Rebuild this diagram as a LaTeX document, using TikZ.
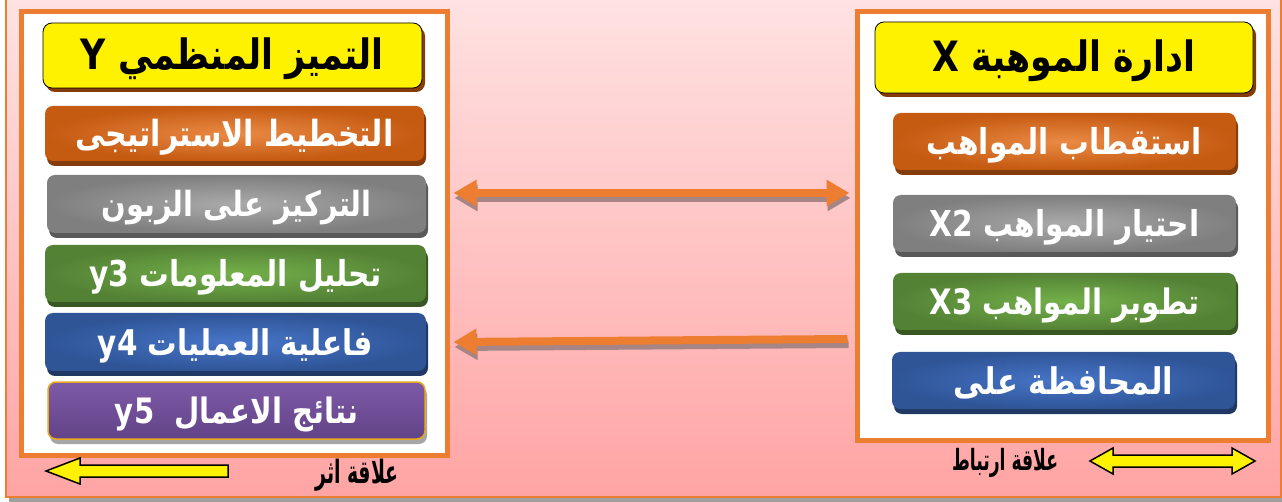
\documentclass[tikz,border=0pt]{standalone}
\usepackage{fontspec}
\usepackage{graphicx}
\usetikzlibrary{shadows,arrows.meta}
\newfontfamily\arfont[Script=Arabic]{DejaVu Sans}
\TeXXeTstate=1
% #1 width, #2 vertical stretch, #3 depth trimmed (moves text down by half), #4 text
\newcommand{\ART}[4]{\raisebox{0pt}[\height][\dimexpr\depth-#3\relax]{\resizebox{#1}{!}{\scalebox{1}[#2]{\arfont\bfseries #4}}}}
\definecolor{bgtop}{HTML}{FFE3E3}
\definecolor{bgbot}{HTML}{FFA4A4}
\definecolor{frameor}{HTML}{ED7D31}
\definecolor{hdrshadow}{HTML}{843C0C}
\definecolor{orout}{HTML}{C55A11}
\definecolor{orin}{HTML}{EA8A45}
\definecolor{orsh}{HTML}{843C0C}
\definecolor{grout}{HTML}{7F7F7F}
\definecolor{grin}{HTML}{AAAAAA}
\definecolor{grsh}{HTML}{595959}
\definecolor{gnout}{HTML}{548235}
\definecolor{gnin}{HTML}{74B04A}
\definecolor{gnsh}{HTML}{385723}
\definecolor{blout}{HTML}{2F5597}
\definecolor{blin}{HTML}{4775C8}
\definecolor{blsh}{HTML}{203864}
\definecolor{putop}{HTML}{7E5AA8}
\definecolor{pubot}{HTML}{614386}
\definecolor{pubord}{HTML}{E8A820}
\definecolor{push}{HTML}{A6A6A6}
\definecolor{arrsh}{HTML}{A78585}
\definecolor{outsh}{HTML}{A0A0A0}
\tikzset{
  frame/.style={draw=frameor, line width=5pt, fill=white, inner sep=0pt, outer sep=0pt},
  hdrbox/.style={draw=black, line width=0.8pt, fill=yellow, rounded corners=9pt,
    inner sep=0pt, outer sep=0pt,
    general shadow={fill=hdrshadow, shadow xshift=3pt, shadow yshift=-4pt}},
  itembox/.style={rounded corners=8pt, inner sep=0pt, outer sep=0pt, text=white},
  orbox/.style={itembox, inner color=orin, outer color=orout,
    general shadow={fill=orsh, shadow xshift=2pt, shadow yshift=-5pt}},
  grbox/.style={itembox, inner color=grin, outer color=grout,
    general shadow={fill=grsh, shadow xshift=2pt, shadow yshift=-5pt}},
  gnbox/.style={itembox, inner color=gnin, outer color=gnout,
    general shadow={fill=gnsh, shadow xshift=2pt, shadow yshift=-5pt}},
  blbox/.style={itembox, inner color=blin, outer color=blout,
    general shadow={fill=blsh, shadow xshift=2pt, shadow yshift=-5pt}},
  pubox/.style={itembox, top color=putop, bottom color=pubot, draw=pubord, line width=1.5pt,
    general shadow={fill=push, shadow xshift=2pt, shadow yshift=-5pt}},
  bigarrow/.style={draw=frameor, line width=8pt},
  bigshadow/.style={draw=arrsh, line width=8pt, transform canvas={xshift=1pt, yshift=-5pt}},
  legarrow/.style={draw=black, line width=1.5pt, fill=yellow, line join=miter},
  leglabel/.style={inner sep=0pt, text=black}
}
\begin{document}
\begin{tikzpicture}[x=1pt, y=-1pt]
\useasboundingbox (0,0) rectangle (1282,502);
\fill[white] (0,0) rectangle (1282,502);
% outer background
\fill[outsh] (9,497) rectangle (1282,502);
\shade[top color=bgtop, bottom color=bgbot] (6,-10) rectangle (1281,497);
\draw[frameor, line width=1.5pt] (6,-10) -- (6,497) -- (1281,497) -- (1281,-10);
% frames
\node[frame, minimum width=426pt, minimum height=444pt] (lp) at (234.5,233.5) {};
\node[frame, minimum width=411pt, minimum height=429pt] (rp) at (1063,226) {};
% left column
\node[hdrbox, minimum width=379pt, minimum height=65pt] (hY) at (232.5,55.5)
  {\ART{303pt}{1.2}{6pt}{\beginR التميز المنظمي Y\endR}};
\node[orbox, minimum width=379pt, minimum height=55pt] (l1) at (234.5,133.5)
  {\ART{318pt}{1.2}{8pt}{\beginR التخطيط الاستراتيجى\endR}};
\node[grbox, minimum width=379pt, minimum height=58pt] (l2) at (236.5,204)
  {\ART{270pt}{1.2}{8pt}{\beginR التركيز على الزبون\endR}};
\node[gnbox, minimum width=381pt, minimum height=57pt] (l3) at (235.5,273.5)
  {\ART{292pt}{1.2}{8pt}{\beginR تحليل المعلومات \beginL y3\endL\endR}};
\node[blbox, minimum width=381pt, minimum height=58pt] (l4) at (235.5,342)
  {\ART{275pt}{1.2}{8pt}{\beginR فاعلية العمليات \beginL y4\endL\endR}};
\node[pubox, minimum width=377pt, minimum height=57pt] (l5) at (236.5,410.5)
  {\ART{243pt}{1.2}{8pt}{\beginR نتائج الاعمال \ \beginL y5\endL\endR}};
% right column
\node[hdrbox, minimum width=378pt, minimum height=71pt] (hX) at (1064,57.5)
  {\ART{263pt}{1.2}{6pt}{\beginR ادارة الموهبة X\endR}};
\node[orbox, minimum width=343pt, minimum height=57pt] (r1) at (1064.5,141.5)
  {\ART{275pt}{1.2}{8pt}{\beginR استقطاب المواهب\endR}};
\node[grbox, minimum width=343pt, minimum height=57pt] (r2) at (1064.5,223.5)
  {\ART{270pt}{1.2}{8pt}{\beginR احتيار المواهب \beginL X2\endL\endR}};
\node[gnbox, minimum width=343pt, minimum height=57pt] (r3) at (1064.5,301.5)
  {\ART{270pt}{1.2}{8pt}{\beginR تطوبر المواهب \beginL X3\endL\endR}};
\node[blbox, minimum width=343pt, minimum height=57pt] (r4) at (1063.5,380.5)
  {\ART{219pt}{1.2}{8pt}{\beginR المحافظة على\endR}};
% connectors between the frames
\coordinate (dL) at ([xshift=6pt]lp.east |- 0,193);
\coordinate (dR) at ([xshift=-8pt]rp.west |- 0,193);
\coordinate (sR) at ([xshift=-10pt]rp.west |- 0,339);
\coordinate (sL) at ([xshift=6pt]lp.east |- 0,342);
\draw[bigshadow, {Triangle[length=23pt,width=25pt]}-{Triangle[length=23pt,width=25pt]}] (dL) -- (dR);
\draw[bigarrow, {Triangle[length=23pt,width=25pt]}-{Triangle[length=23pt,width=25pt]}] (dL) -- (dR);
\draw[bigshadow, -{Triangle[length=23pt,width=25pt]}] (sR) -- (sL);
\draw[bigarrow, -{Triangle[length=23pt,width=25pt]}] (sR) -- (sL);
% legend
\draw[legarrow] (46,471) -- (80,458) -- (80,465) -- (228,465) -- (228,477) -- (80,477) -- (80,484) -- cycle;
\node[leglabel] (lg1) at (357,475) {\ART{83pt}{1.7}{0pt}{\beginR علاقة اثر\endR}};
\draw[legarrow] (1090,461) -- (1113,448) -- (1113,455) -- (1232,455) -- (1232,448) -- (1255,461)
  -- (1232,474) -- (1232,467) -- (1113,467) -- (1113,474) -- cycle;
\node[leglabel] (lg2) at (1005,463) {\ART{106pt}{1.7}{0pt}{\beginR علاقة ارتباط\endR}};
\end{tikzpicture}
\end{document}
